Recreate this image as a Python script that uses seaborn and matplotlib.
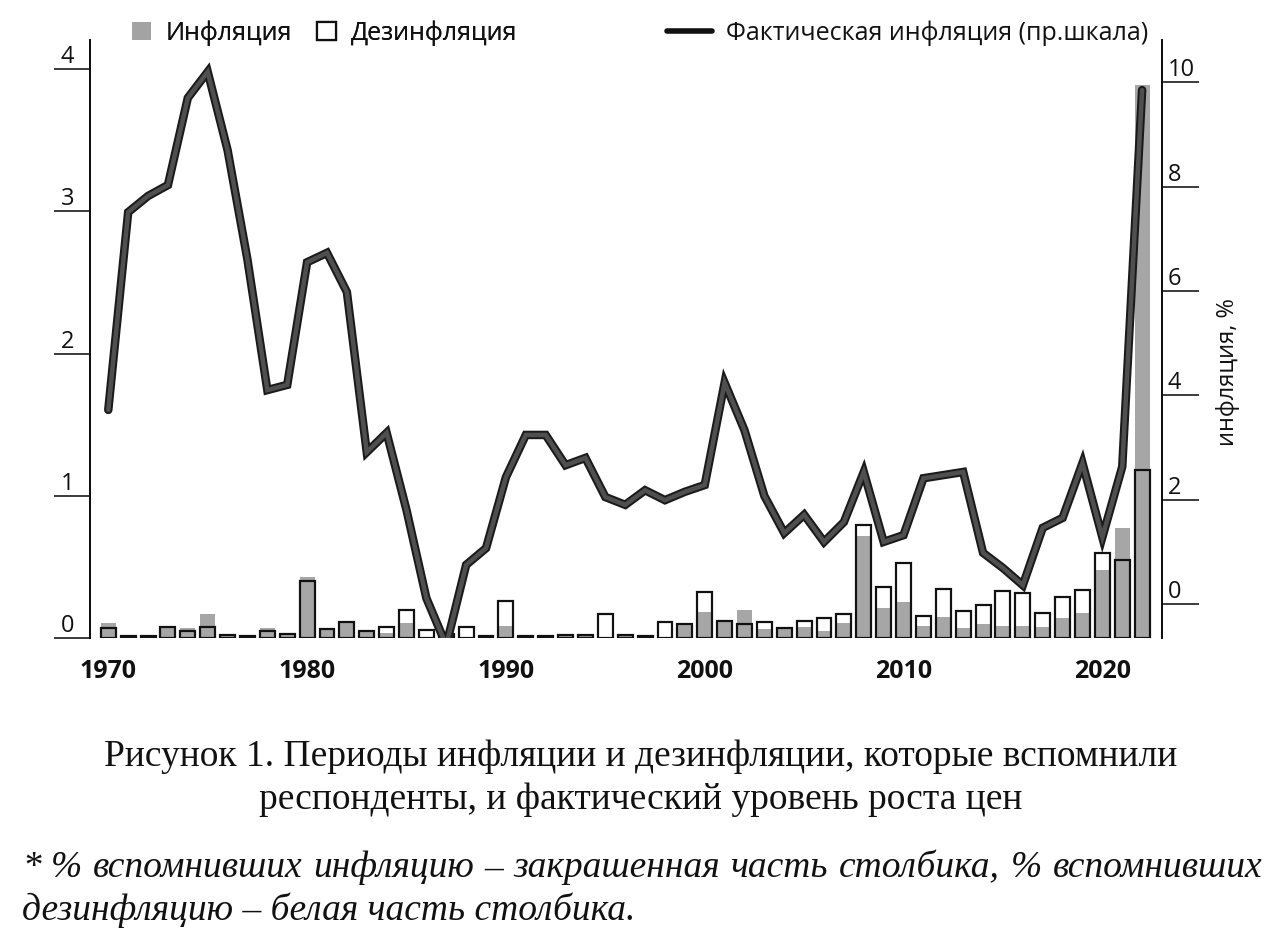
import numpy as np
import pandas as pd
import matplotlib
matplotlib.use("Agg")
import matplotlib.pyplot as plt
import matplotlib.patches as mpatches
import matplotlib.patheffects as pe
from matplotlib.lines import Line2D
import seaborn as sns

# --- data ---
years = list(range(1970, 2023))

# share who remembered inflation (gray fill), left scale
inflation_share = [
    0.106, 0.012, 0.012, 0.075, 0.068, 0.17, 0.02, 0.015, 0.07, 0.03,
    0.43, 0.063, 0.11, 0.05, 0.037, 0.108, 0.0, 0.02, 0.0, 0.015,
    0.087, 0.015, 0.015, 0.02, 0.02, 0.0, 0.02, 0.015, 0.0, 0.096,
    0.185, 0.12, 0.195, 0.06, 0.073, 0.075, 0.047, 0.105, 0.72, 0.21,
    0.255, 0.084, 0.145, 0.068, 0.098, 0.087, 0.087, 0.08, 0.143, 0.174,
    0.48, 0.77, 3.89,
]

# outlined box (disinflation), left scale
disinflation_box = [
    0.07, 0.012, 0.012, 0.075, 0.05, 0.08, 0.02, 0.015, 0.05, 0.03,
    0.40, 0.063, 0.11, 0.05, 0.08, 0.197, 0.056, 0.03, 0.08, 0.015,
    0.26, 0.015, 0.015, 0.02, 0.02, 0.167, 0.02, 0.015, 0.11, 0.096,
    0.32, 0.12, 0.10, 0.112, 0.073, 0.12, 0.143, 0.17, 0.795, 0.36,
    0.53, 0.155, 0.345, 0.19, 0.232, 0.33, 0.314, 0.174, 0.286, 0.337,
    0.60, 0.55, 1.18,
]

# actual inflation, right scale, %
actual_inflation = [
    3.72, 7.51, 7.82, 8.03, 9.70, 10.2, 8.7, 6.6, 4.1, 4.2,
    6.55, 6.73, 5.98, 2.91, 3.28, 1.8, 0.11, -0.79, 0.75, 1.07,
    2.43, 3.24, 3.24, 2.66, 2.8, 2.05, 1.9, 2.18, 1.99, 2.15,
    2.28, 4.24, 3.33, 2.07, 1.36, 1.71, 1.19, 1.57, 2.53, 1.19,
    1.32, 2.41, 2.47, 2.53, 0.98, 0.69, 0.36, 1.46, 1.65, 2.7,
    1.28, 2.63, 9.85,
]

left_ticks = [0, 1, 2, 3, 4]
right_ticks = [0, 2, 4, 6, 8, 10]
decade_ticks = [1970, 1980, 1990, 2000, 2010, 2020]

legend_labels = ["Инфляция", "Дезинфляция", "Фактическая инфляция (пр.шкала)"]
right_label = "инфляция, %"
caption_lines = [
    "Рисунок 1. Периоды инфляции и дезинфляции, которые вспомнили",
    "респонденты, и фактический уровень роста цен",
]
note_line1 = "* % вспомнивших инфляцию – закрашенная часть столбика, % вспомнивших"
note_line2 = "дезинфляцию – белая часть столбика."

GRAY = "#a6a6a6"
PX = 1 / 1.3889  # one pixel in points at dpi 100

sns.set_theme(style="white")
plt.rcParams["font.family"] = ["Open Sans", "DejaVu Sans"]
plt.rcParams["text.color"] = "#111111"
plt.rcParams["xtick.color"] = "#111111"
plt.rcParams["ytick.color"] = "#111111"

df = pd.DataFrame({
    "year": years,
    "inflation": inflation_share,
    "disinflation": disinflation_box,
    "actual": actual_inflation,
})

fig = plt.figure(figsize=(12.82, 9.39), dpi=100)
ax = fig.add_axes([90 / 1282, 1 - 638 / 939, (1162 - 90) / 1282, (638 - 40) / 939])

# gray bars first, outlined boxes on top
sns.barplot(data=df, x="year", y="inflation", native_scale=True, width=0.75,
            color=GRAY, saturation=1, linewidth=0, errorbar=None, ax=ax)
sns.barplot(data=df, x="year", y="disinflation", native_scale=True, width=0.75,
            color="#111111", fill=False, linewidth=2.2 * PX, errorbar=None, ax=ax)

ax2 = ax.twinx()
sns.lineplot(data=df, x="year", y="actual", color="#4f4f4f", linewidth=4.5 * PX, ax=ax2)
ax2.lines[0].set_path_effects([
    pe.Stroke(linewidth=8.5 * PX, foreground="#1a1a1a"),
    pe.Normal(),
])
ax2.lines[0].set_solid_joinstyle("miter")

ax.set_xlim(1969.08, 2023.0)
ax.set_ylim(0, 4.204)
ax2.set_ylim(-0.652, 10.81)

for a in (ax, ax2):
    a.set_xlabel("")
    a.set_ylabel("")
    for s in ("top", "bottom"):
        a.spines[s].set_visible(False)
ax.spines["right"].set_visible(False)
ax.spines["left"].set_linewidth(2 * PX)
ax.spines["left"].set_color("#111111")
ax2.spines["left"].set_visible(False)
ax2.spines["right"].set_linewidth(2 * PX)
ax2.spines["right"].set_color("#111111")

ax.set_xticks(decade_ticks)
ax.set_xticklabels([str(y) for y in decade_ticks], fontweight="bold", fontsize=18)
ax.tick_params(axis="x", length=0, pad=15)

ax.set_yticks(left_ticks)
ax.set_yticklabels([str(t) for t in left_ticks], fontsize=17)
ax.tick_params(axis="y", left=True, length=36 * PX, width=1.6 * PX, color="#111111",
               pad=-20 * PX)
for t in ax.yaxis.get_major_ticks():
    t.label1.set_verticalalignment("bottom")

ax2.set_yticks(right_ticks)
ax2.set_yticklabels([str(t) for t in right_ticks], fontsize=17)
ax2.tick_params(axis="y", right=True, length=37 * PX, width=1.6 * PX, color="#111111",
                pad=-31 * PX)
for t in ax2.yaxis.get_major_ticks():
    t.label2.set_verticalalignment("bottom")

fig.text(1228 / 1282, 1 - 372 / 939, right_label, rotation=90, fontsize=17,
         ha="center", va="center")

# legends
bar_handles = [
    mpatches.Patch(facecolor="#a3a3a3", edgecolor="none"),
    mpatches.Patch(facecolor="white", edgecolor="#111111", linewidth=1.6),
]
leg1 = fig.legend(bar_handles, legend_labels[:2], loc="center left",
                  bbox_to_anchor=(132 / 1282, 1 - 33 / 939), ncol=2, frameon=False,
                  fontsize=18, handlelength=0.75, handleheight=0.75, handletextpad=0.6,
                  columnspacing=1.0, borderpad=0, borderaxespad=0)
line_handle = [Line2D([0], [0], color="#111111", linewidth=4.0)]
leg2 = fig.legend(line_handle, legend_labels[2:], loc="center left",
                  bbox_to_anchor=(667 / 1282, 1 - 33 / 939), frameon=False,
                  fontsize=18, handlelength=1.8, handletextpad=0.55,
                  borderpad=0, borderaxespad=0)
fig.add_artist(leg1)

# caption
serif = ["Liberation Serif", "DejaVu Serif"]
fig.text(0.5, 1 - 757 / 939, caption_lines[0], family=serif, fontsize=27,
         ha="center", va="center")
fig.text(0.5, 1 - 800 / 939, caption_lines[1], family=serif, fontsize=27,
         ha="center", va="center")

# footnote, first line justified across the width
renderer = fig.canvas.get_renderer()
words = note_line1.split(" ")
x_left, x_right = 22 / 1282, 1262 / 1282
word_texts = [fig.text(0, 1 - 868 / 939, w, family=serif, style="italic",
                       fontsize=27, ha="left", va="center") for w in words]
widths = [t.get_window_extent(renderer).width / 1282 for t in word_texts]
gap = (x_right - x_left - sum(widths)) / (len(words) - 1)
x = x_left
for t, w in zip(word_texts, widths):
    t.set_x(x)
    x += w + gap
fig.text(x_left, 1 - 910 / 939, note_line2, family=serif, style="italic",
         fontsize=27, ha="left", va="center")

fig.savefig("out.png", dpi=100)
